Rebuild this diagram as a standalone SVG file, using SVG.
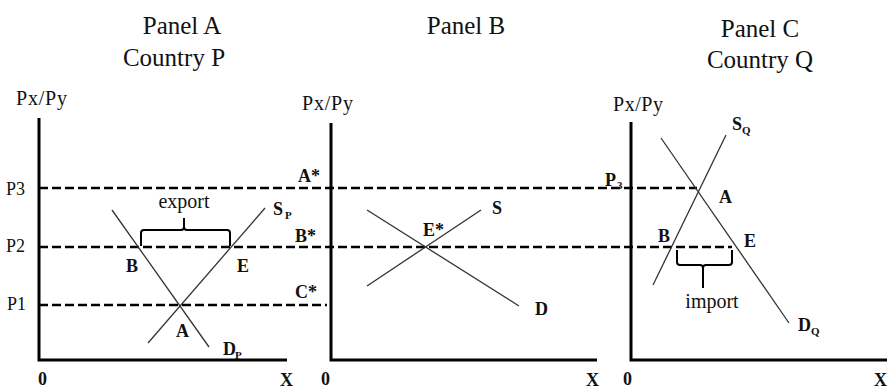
<svg xmlns="http://www.w3.org/2000/svg" width="890" height="390" viewBox="0 0 890 390" font-family="'Liberation Serif', 'DejaVu Serif', serif">
<style>
text{font-family:'Liberation Serif','DejaVu Serif',serif;fill:#111}
.title{font-size:25px;text-anchor:middle}
.ax{font-size:20px}
.tick{font-size:18px}
.lb{font-size:18px;font-weight:bold}
.sub{font-size:11px;font-weight:bold}
.note{font-size:20px;text-anchor:middle}
.axis{stroke:#000;stroke-width:3;fill:none}
.dash{stroke:#000;stroke-width:2.5;stroke-dasharray:9 4;fill:none}
.curve{stroke:#333;stroke-width:1.3;fill:none}
.brace{stroke:#000;stroke-width:2;fill:none;stroke-linejoin:round}
</style>
<rect width="890" height="390" fill="#fff"/>
<g id="connectors">
<line class="dash" x1="39" y1="188" x2="697" y2="188"/>
<line class="dash" x1="39" y1="247" x2="732" y2="247"/>
<line class="dash" x1="39" y1="305" x2="327" y2="305"/>
</g>
<g id="panelA">
<text class="title" x="182" y="34">Panel A</text>
<text class="title" x="174" y="66">Country P</text>
<text class="ax" x="16" y="105" textLength="51">Px/Py</text>
<path class="axis" d="M39,118 V360 H287"/>
<text class="tick" x="6" y="195">P3</text>
<text class="tick" x="6" y="252">P2</text>
<text class="tick" x="7" y="310">P1</text>
<line class="curve" x1="112" y1="210" x2="209" y2="347"/>
<line class="curve" x1="148" y1="343" x2="265" y2="208"/>
<path class="brace" d="M141,246 V233 Q141,230 144,230 H181 Q184,230 184,227 V218 M184,227 Q184,230 187,230 H227 Q230,230 230,233 V246"/>
<text class="note" x="184" y="208">export</text>
<text class="lb" x="126" y="272">B</text>
<text class="lb" x="237" y="272">E</text>
<text class="lb" x="176" y="337">A</text>
<text class="lb" x="273" y="215">S</text><text class="sub" x="285" y="219">P</text>
<text class="lb" x="223" y="355">D</text><text class="sub" x="235" y="359">P</text>
<text class="lb" x="38" y="385">0</text>
<text class="lb" x="280" y="386">X</text>
</g>
<g id="panelB">
<text class="title" x="466" y="34">Panel B</text>
<text class="ax" x="302" y="110" textLength="51">Px/Py</text>
<path class="axis" d="M331,123 V360 H597"/>
<line class="curve" x1="367" y1="286" x2="481" y2="210"/>
<line class="curve" x1="367" y1="210" x2="519" y2="306"/>
<text class="lb" x="298" y="182">A*</text>
<text class="lb" x="295" y="242">B*</text>
<text class="lb" x="295" y="298">C*</text>
<text class="lb" x="423" y="236">E*</text>
<text class="lb" x="492" y="214">S</text>
<text class="lb" x="535" y="315">D</text>
<text class="lb" x="321" y="385">0</text>
<text class="lb" x="586" y="386">X</text>
</g>
<g id="panelC">
<text class="title" x="760" y="37">Panel C</text>
<text class="title" x="760" y="68">Country Q</text>
<text class="ax" x="613" y="111" textLength="50">Px/Py</text>
<path class="axis" d="M631,122 V360 H887"/>
<line class="curve" x1="653" y1="285" x2="726" y2="135"/>
<line class="curve" x1="661" y1="138" x2="789" y2="323"/>
<path class="brace" d="M677,250 V262 Q677,265 680,265 H700 Q703,265 703,268 V288 M703,268 Q703,265 706,265 H729 Q732,265 732,262 V250"/>
<text class="note" x="712" y="308">import</text>
<text class="lb" x="605" y="186">P</text><text class="sub" x="617" y="189">3</text>
<text class="lb" x="732" y="130">S</text><text class="sub" x="742" y="134">Q</text>
<text class="lb" x="719" y="203">A</text>
<text class="lb" x="658" y="242">B</text>
<text class="lb" x="744" y="247">E</text>
<text class="lb" x="798" y="331">D</text><text class="sub" x="811" y="335">Q</text>
<text class="lb" x="623" y="385">0</text>
<text class="lb" x="874" y="386">X</text>
</g>
</svg>
